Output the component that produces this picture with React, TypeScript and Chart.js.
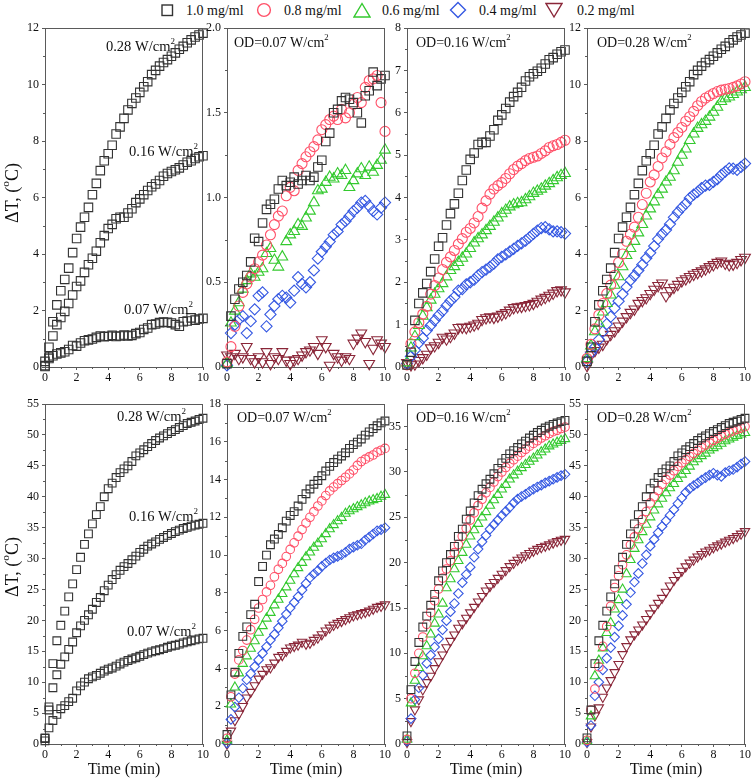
import React, { useEffect, useRef } from "react";
import { Chart, registerables } from "chart.js";

Chart.register(...registerables);

const FONT = '"Liberation Serif", "Times New Roman", serif';
const TEXT_COLOR = "#111111";
const AXIS_COLOR = "#5a5a5a";

// ---------- data ----------
const times = [0, 0.25, 0.5, 0.75, 1, 1.25, 1.5, 1.75, 2, 2.25, 2.5, 2.75, 3, 3.25, 3.5, 3.75, 4, 4.25, 4.5, 4.75, 5, 5.25, 5.5, 5.75, 6, 6.25, 6.5, 6.75, 7, 7.25, 7.5, 7.75, 8, 8.25, 8.5, 8.75, 9, 9.25, 9.5, 9.75, 10];
const timeTickStep = 2;

const concLabels = ["1.0 mg/ml", "0.8 mg/ml", "0.6 mg/ml", "0.4 mg/ml", "0.2 mg/ml"];
const powerLabels = ["0.07 W/cm", "0.16 W/cm", "0.28 W/cm"];

// Top row (ΔT up to a few °C)
const top_007_c10 = [0.02, 0.30, 0.40, 0.46, 0.50, 0.54, 0.62, 0.76, 0.74, 0.85, 0.93, 0.96, 0.99, 1.05, 1.10, 1.07, 1.09, 1.12, 1.08, 1.10, 1.13, 1.10, 1.12, 1.18, 1.22, 1.33, 1.38, 1.50, 1.52, 1.57, 1.59, 1.58, 1.56, 1.50, 1.44, 1.60, 1.63, 1.74, 1.66, 1.70, 1.72];
const top_007_c08 = [0.03, 0.12, 0.24, 0.36, 0.44, 0.49, 0.53, 0.58, 0.62, 0.66, 0.72, 0.78, 0.84, 0.89, 0.92, 1.01, 1.06, 1.04, 1.16, 1.20, 1.24, 1.27, 1.30, 1.34, 1.40, 1.43, 1.46, 1.48, 1.46, 1.52, 1.47, 1.50, 1.55, 1.59, 1.56, 1.65, 1.69, 1.70, 1.72, 1.56, 1.39];
const top_007_c06 = [0.02, 0.26, 0.33, 0.38, 0.46, 0.51, 0.55, 0.53, 0.56, 0.58, 0.67, 0.70, 0.63, 0.59, 0.65, 0.74, 0.78, 0.80, 0.84, 0.83, 0.88, 0.92, 0.97, 1.04, 1.05, 1.09, 1.12, 1.11, 1.14, 1.13, 1.16, 1.06, 1.10, 1.14, 1.17, 1.13, 1.18, 1.15, 1.19, 1.22, 1.28];
const top_007_c04 = [0.01, 0.20, 0.25, 0.28, 0.30, 0.20, 0.27, 0.34, 0.42, 0.44, 0.24, 0.31, 0.36, 0.40, 0.42, 0.41, 0.38, 0.45, 0.53, 0.49, 0.47, 0.50, 0.57, 0.64, 0.68, 0.71, 0.74, 0.78, 0.80, 0.84, 0.86, 0.89, 0.92, 0.94, 0.97, 0.98, 0.95, 0.92, 0.90, 0.94, 0.97];
const top_007_c02 = [0.07, 0.06, 0.08, 0.05, 0.06, 0.12, 0.05, 0.03, 0.06, 0.03, 0.09, 0.02, 0.06, 0.05, 0.09, 0.04, 0.02, 0.04, 0.05, 0.07, 0.09, 0.10, 0.12, 0.08, 0.16, 0.12, 0.01, 0.08, 0.06, 0.04, 0.06, 0.05, 0.14, 0.17, 0.20, 0.15, 0.02, 0.11, 0.16, 0.14, 0.12];

const top_016_c10 = [0.05, 0.35, 1.1, 1.5, 1.75, 1.97, 2.25, 2.55, 2.85, 3.05, 3.35, 3.62, 3.85, 4.1, 4.4, 4.65, 4.9, 5.05, 5.25, 5.3, 5.3, 5.45, 5.6, 5.82, 5.95, 6.1, 6.25, 6.38, 6.48, 6.6, 6.75, 6.85, 6.92, 6.98, 7.05, 7.15, 7.25, 7.3, 7.38, 7.44, 7.48];
const top_016_c08 = [0.05, 0.55, 0.83, 1.05, 1.25, 1.43, 1.72, 1.92, 2.1, 2.3, 2.47, 2.6, 2.75, 2.9, 3.03, 3.18, 3.27, 3.4, 3.55, 3.75, 3.92, 4.08, 4.2, 4.28, 4.35, 4.45, 4.56, 4.66, 4.74, 4.8, 4.87, 4.92, 4.95, 4.98, 5.04, 5.1, 5.18, 5.22, 5.25, 5.3, 5.35];
const top_016_c06 = [0.1, 0.45, 0.72, 0.98, 1.2, 1.4, 1.58, 1.72, 1.85, 1.97, 2.13, 2.28, 2.37, 2.47, 2.57, 2.67, 2.8, 2.93, 3.03, 3.12, 3.22, 3.32, 3.42, 3.52, 3.62, 3.7, 3.78, 3.83, 3.86, 3.88, 3.95, 4.02, 4.1, 4.15, 4.2, 4.27, 4.33, 4.4, 4.47, 4.52, 4.57];
const top_016_c04 = [0.08, 0.25, 0.4, 0.57, 0.68, 0.86, 0.98, 1.1, 1.22, 1.32, 1.45, 1.56, 1.65, 1.8, 1.84, 1.95, 2.0, 2.06, 2.16, 2.24, 2.3, 2.36, 2.44, 2.54, 2.6, 2.66, 2.72, 2.79, 2.86, 2.92, 2.98, 3.06, 3.14, 3.22, 3.28, 3.3, 3.25, 3.2, 3.2, 3.18, 3.15];
const top_016_c02 = [0.1, 0.05, 0.07, 0.15, 0.22, 0.3, 0.45, 0.5, 0.58, 0.7, 0.66, 0.72, 0.8, 0.93, 0.94, 0.93, 0.96, 0.99, 1.03, 1.12, 1.16, 1.18, 1.17, 1.2, 1.24, 1.28, 1.34, 1.4, 1.42, 1.43, 1.45, 1.47, 1.5, 1.55, 1.6, 1.64, 1.69, 1.74, 1.8, 1.82, 1.77];

const top_028_c10 = [0.2, 0.7, 1.6, 2.2, 2.7, 3.1, 3.5, 4.05, 4.55, 4.95, 5.3, 5.65, 6.1, 6.5, 6.95, 7.3, 7.55, 7.85, 8.25, 8.5, 8.8, 9.1, 9.33, 9.52, 9.72, 9.92, 10.1, 10.35, 10.5, 10.65, 10.78, 10.88, 11.0, 11.12, 11.25, 11.35, 11.48, 11.58, 11.68, 11.75, 11.82];
const top_028_c08 = [0.3, 0.8, 1.35, 1.84, 2.25, 2.6, 2.9, 3.25, 3.7, 4.0, 4.45, 4.7, 4.95, 5.3, 5.75, 6.15, 6.55, 6.8, 7.1, 7.4, 7.62, 7.88, 8.12, 8.3, 8.48, 8.7, 8.86, 9.05, 9.25, 9.4, 9.52, 9.6, 9.68, 9.75, 9.8, 9.83, 9.86, 9.9, 9.95, 10.02, 10.1];
const top_028_c06 = [0.3, 0.75, 1.25, 1.55, 1.95, 2.25, 2.55, 2.9, 3.2, 3.55, 3.95, 4.2, 4.45, 4.75, 5.05, 5.35, 5.6, 5.85, 6.1, 6.3, 6.55, 6.72, 6.95, 7.25, 7.5, 7.72, 8.02, 8.25, 8.45, 8.58, 8.7, 8.85, 9.02, 9.2, 9.4, 9.5, 9.56, 9.65, 9.74, 9.82, 9.9];
const top_028_c04 = [0.2, 0.5, 0.7, 0.97, 1.25, 1.52, 1.78, 2.08, 2.33, 2.58, 2.83, 3.07, 3.23, 3.42, 3.62, 3.85, 4.04, 4.28, 4.53, 4.7, 4.85, 5.06, 5.3, 5.48, 5.64, 5.78, 5.98, 6.1, 6.2, 6.33, 6.42, 6.45, 6.55, 6.65, 6.8, 6.92, 7.03, 7.02, 6.98, 7.08, 7.2];
const top_028_c02 = [0.05, 0.42, 0.58, 0.7, 0.8, 1.0, 1.15, 1.28, 1.45, 1.62, 1.78, 1.93, 2.05, 2.25, 2.35, 2.45, 2.6, 2.75, 2.88, 2.97, 2.52, 2.7, 2.82, 2.92, 3.05, 3.12, 3.2, 3.28, 3.34, 3.4, 3.47, 3.55, 3.62, 3.7, 3.75, 3.67, 3.62, 3.64, 3.7, 3.8, 3.88];

// Bottom row (ΔT up to ~50 °C)
const bot_007_c10 = [0.5, 2.6, 3.8, 4.8, 5.7, 6.2, 6.85, 7.4, 8.6, 9.4, 10.0, 10.55, 10.85, 11.1, 11.45, 11.8, 12.1, 12.3, 12.6, 12.95, 13.25, 13.5, 13.75, 13.95, 14.2, 14.45, 14.7, 14.9, 15.08, 15.25, 15.42, 15.65, 15.85, 15.98, 16.15, 16.35, 16.52, 16.7, 16.85, 17.0, 17.1];
const bot_007_c08 = [0.3, 2.5, 3.7, 4.45, 4.95, 5.5, 6.05, 6.6, 7.2, 7.65, 8.05, 8.4, 8.85, 9.25, 9.56, 9.92, 10.3, 10.65, 11.0, 11.35, 11.7, 12.0, 12.3, 12.6, 12.87, 13.15, 13.4, 13.6, 13.78, 13.95, 14.12, 14.3, 14.5, 14.75, 14.95, 15.08, 15.2, 15.3, 15.45, 15.55, 15.65];
const bot_007_c06 = [0.2, 2.1, 3.0, 3.75, 4.25, 4.65, 5.05, 5.45, 5.9, 6.25, 6.65, 6.95, 7.35, 7.65, 7.95, 8.3, 8.65, 9.0, 9.32, 9.6, 9.9, 10.15, 10.4, 10.62, 10.85, 11.12, 11.38, 11.6, 11.8, 11.98, 12.2, 12.33, 12.44, 12.55, 12.65, 12.76, 12.85, 12.92, 12.98, 13.1, 13.2];
const bot_007_c04 = [0.05, 1.3, 1.95, 2.45, 2.95, 3.4, 3.72, 4.1, 4.45, 4.8, 5.15, 5.5, 5.8, 6.15, 6.5, 6.88, 7.2, 7.5, 7.8, 8.15, 8.5, 8.8, 9.0, 9.18, 9.4, 9.58, 9.74, 9.85, 9.93, 10.02, 10.15, 10.32, 10.42, 10.52, 10.6, 10.8, 10.95, 11.12, 11.28, 11.35, 11.45];
const bot_007_c02 = [0.0, 0.7, 1.25, 1.6, 2.0, 2.45, 2.75, 3.1, 3.45, 3.7, 3.95, 4.05, 4.3, 4.6, 4.7, 4.92, 5.1, 5.18, 5.25, 5.4, 5.3, 5.35, 5.5, 5.62, 5.8, 6.0, 6.15, 6.3, 6.4, 6.5, 6.6, 6.7, 6.8, 6.86, 6.92, 6.98, 7.05, 7.15, 7.25, 7.3, 7.38];

const bot_016_c10 = [0.9, 6.0, 9.1, 11.2, 12.9, 14.1, 15.3, 16.5, 18.0, 19.1, 20.0, 20.9, 21.8, 22.9, 23.7, 24.8, 25.7, 26.6, 27.4, 28.1, 28.7, 29.2, 29.8, 30.4, 31.0, 31.5, 32.0, 32.35, 32.7, 33.1, 33.4, 33.75, 34.05, 34.35, 34.6, 34.85, 35.05, 35.25, 35.4, 35.55, 35.7];
const bot_016_c08 = [0.5, 5.0, 7.8, 10.0, 11.8, 13.2, 14.5, 15.8, 17.1, 18.3, 19.3, 20.2, 21.1, 22.0, 22.9, 23.8, 24.7, 25.5, 26.3, 27.0, 27.7, 28.3, 28.9, 29.5, 30.0, 30.5, 30.95, 31.35, 31.75, 32.15, 32.5, 32.85, 33.15, 33.45, 33.75, 34.0, 34.25, 34.45, 34.6, 34.8, 34.95];
const bot_016_c06 = [0.5, 4.5, 7.0, 8.4, 9.7, 10.8, 12.1, 13.3, 14.3, 15.5, 17.2, 18.2, 19.3, 20.2, 21.1, 22.0, 22.9, 23.6, 24.3, 25.0, 25.6, 26.3, 26.9, 27.5, 28.1, 28.6, 29.2, 29.65, 30.05, 30.45, 30.8, 31.15, 31.5, 31.85, 32.2, 32.5, 32.85, 33.05, 33.25, 33.45, 33.65];
const bot_016_c04 = [0.3, 2.8, 4.9, 6.2, 7.6, 8.9, 9.8, 10.7, 11.6, 12.6, 13.6, 14.6, 15.5, 16.6, 17.8, 18.7, 19.5, 20.6, 21.5, 22.3, 23.0, 23.7, 24.2, 24.7, 25.2, 25.65, 26.1, 26.6, 27.0, 27.3, 27.55, 27.85, 28.1, 28.35, 28.55, 28.8, 29.0, 29.2, 29.4, 29.6, 29.75];
const bot_016_c02 = [0.2, 2.5, 3.8, 4.9, 6.0, 6.8, 7.5, 8.35, 9.1, 9.85, 10.65, 11.35, 12.05, 12.8, 13.3, 13.9, 14.5, 15.1, 15.7, 16.3, 16.9, 17.4, 17.85, 18.3, 18.75, 19.15, 19.6, 19.95, 20.3, 20.55, 20.8, 21.05, 21.3, 21.5, 21.7, 21.85, 22.0, 22.2, 22.35, 22.5, 22.6];

const bot_028_c10 = [1.0, 5.5, 13.0, 16.7, 19.2, 21.5, 23.8, 25.9, 28.2, 30.2, 32.3, 34.0, 35.6, 37.1, 38.4, 40.0, 41.3, 42.2, 43.1, 43.9, 44.5, 45.0, 45.7, 46.6, 47.1, 47.6, 48.1, 48.6, 49.1, 49.5, 49.85, 50.2, 50.55, 50.85, 51.2, 51.5, 51.85, 52.05, 52.25, 52.5, 52.7];
const bot_028_c08 = [0.6, 5.5, 8.9, 12.5, 15.8, 19.0, 22.3, 25.3, 27.2, 29.0, 30.6, 32.2, 33.5, 34.8, 36.3, 37.6, 39.0, 40.0, 41.0, 42.0, 42.8, 43.5, 44.2, 44.9, 45.5, 46.0, 46.5, 47.0, 47.5, 47.95, 48.35, 48.7, 49.1, 49.45, 49.8, 50.1, 50.4, 50.65, 50.9, 51.1, 51.35];
const bot_028_c06 = [0.5, 4.5, 11.0, 13.5, 15.5, 18.0, 19.6, 21.8, 23.3, 25.0, 27.5, 29.8, 31.6, 33.0, 34.3, 35.5, 36.7, 37.8, 38.8, 39.7, 40.6, 41.4, 42.1, 42.9, 43.6, 44.2, 44.9, 45.6, 46.1, 46.6, 47.0, 47.5, 47.9, 48.2, 48.6, 49.0, 49.3, 49.6, 49.85, 50.1, 50.35];
const bot_028_c04 = [0.3, 3.0, 7.8, 10.0, 12.0, 13.9, 15.6, 17.3, 19.1, 20.8, 22.6, 24.5, 26.2, 27.6, 29.2, 30.6, 32.0, 33.1, 34.2, 35.2, 36.1, 37.0, 37.9, 38.9, 39.8, 40.7, 41.3, 41.8, 42.2, 42.7, 43.1, 43.5, 43.8, 43.5, 43.3, 43.9, 44.2, 44.4, 44.8, 45.3, 45.7];
const bot_028_c02 = [0.3, 2.8, 4.6, 5.9, 7.6, 9.1, 10.3, 11.6, 12.9, 14.5, 15.8, 16.9, 17.7, 18.5, 19.3, 20.2, 21.1, 22.0, 22.8, 23.6, 24.6, 25.6, 26.5, 27.3, 28.0, 28.7, 29.3, 29.8, 30.3, 30.7, 31.1, 31.4, 31.8, 32.1, 32.4, 32.7, 33.0, 33.3, 33.6, 34.0, 34.4];

// ---------- styles ----------
const seriesColors = ["#333333", "#ff5068", "#33c92e", "#3558e2", "#8a2638"];
const seriesShapes = ["rect", "circle", "triangle", "rectRot", "triangle"];
const seriesRotation = [0, 0, 0, 0, 180];
const topRadii = [6, 5, 6.2, 5.6, 6.2];
const botRadii = [5.5, 4.3, 5.4, 4.8, 5.4];

type Part = { text: string; sup?: boolean };
type Note = { parts: Part[]; x: number; y: number };
type PanelDef = {
  key: string;
  left: number;
  top: number;
  width: number;
  height: number;
  bottomSpace: number;
  yMax: number;
  yStep: number;
  oneDecimal?: boolean;
  series: number[][];
  styles: number[];
  radii: number[];
  title?: Part[];
  titleOffset?: [number, number];
  notes?: Note[];
  xTitle: boolean;
  yTitleY?: number;
};

const AXIS_W = 45;
const PAD_T = 14;
const PAD_R = 12;

const sup2 = (t: string): Part[] => [{ text: t }, { text: "2", sup: true }];
const odTitle = (p: string): Part[] => sup2("OD=" + p);

const colLeft = [45, 227, 407, 587];
const colW = 158;
const TOP_ROW = { top: 28, height: 339, bottom: 25 };
const BOT_ROW = { top: 404, height: 340, bottom: 35 };

const panels: PanelDef[] = [
  {
    key: "t1", left: colLeft[0], top: TOP_ROW.top, width: colW, height: TOP_ROW.height, bottomSpace: TOP_ROW.bottom,
    yMax: 12, yStep: 2, series: [top_028_c10, top_016_c10, top_007_c10], styles: [0, 0, 0], radii: topRadii,
    notes: [
      { parts: sup2(powerLabels[2]), x: 3.86, y: 11.33 },
      { parts: sup2(powerLabels[1]), x: 5.32, y: 7.61 },
      { parts: sup2(powerLabels[0]), x: 5.0, y: 2.02 },
    ],
    xTitle: false, yTitleY: 193,
  },
  {
    key: "t2", left: colLeft[1], top: TOP_ROW.top, width: colW, height: TOP_ROW.height, bottomSpace: TOP_ROW.bottom,
    yMax: 2, yStep: 0.5, oneDecimal: true,
    series: [top_007_c10, top_007_c08, top_007_c06, top_007_c04, top_007_c02], styles: [0, 1, 2, 3, 4], radii: topRadii,
    title: odTitle(powerLabels[0]), titleOffset: [7, 15], xTitle: false,
  },
  {
    key: "t3", left: colLeft[2], top: TOP_ROW.top, width: colW, height: TOP_ROW.height, bottomSpace: TOP_ROW.bottom,
    yMax: 8, yStep: 1,
    series: [top_016_c10, top_016_c08, top_016_c06, top_016_c04, top_016_c02], styles: [0, 1, 2, 3, 4], radii: topRadii,
    title: odTitle(powerLabels[1]), titleOffset: [9, 15], xTitle: false,
  },
  {
    key: "t4", left: colLeft[3], top: TOP_ROW.top, width: colW, height: TOP_ROW.height, bottomSpace: TOP_ROW.bottom,
    yMax: 12, yStep: 2,
    series: [top_028_c10, top_028_c08, top_028_c06, top_028_c04, top_028_c02], styles: [0, 1, 2, 3, 4], radii: topRadii,
    title: odTitle(powerLabels[2]), titleOffset: [10, 15], xTitle: false,
  },
  {
    key: "b1", left: colLeft[0], top: BOT_ROW.top, width: colW, height: BOT_ROW.height, bottomSpace: BOT_ROW.bottom,
    yMax: 55, yStep: 5, series: [bot_028_c10, bot_016_c10, bot_007_c10], styles: [0, 0, 0], radii: botRadii,
    notes: [
      { parts: sup2(powerLabels[2]), x: 4.56, y: 52.9 },
      { parts: sup2(powerLabels[1]), x: 5.32, y: 36.7 },
      { parts: sup2(powerLabels[0]), x: 5.19, y: 18.1 },
    ],
    xTitle: true, yTitleY: 567,
  },
  {
    key: "b2", left: colLeft[1], top: BOT_ROW.top, width: colW, height: BOT_ROW.height, bottomSpace: BOT_ROW.bottom,
    yMax: 18, yStep: 2,
    series: [bot_007_c10, bot_007_c08, bot_007_c06, bot_007_c04, bot_007_c02], styles: [0, 1, 2, 3, 4], radii: botRadii,
    title: odTitle(powerLabels[0]), titleOffset: [10, 14], xTitle: true,
  },
  {
    key: "b3", left: colLeft[2], top: BOT_ROW.top, width: colW, height: BOT_ROW.height, bottomSpace: BOT_ROW.bottom,
    yMax: 37.5, yStep: 5,
    series: [bot_016_c10, bot_016_c08, bot_016_c06, bot_016_c04, bot_016_c02], styles: [0, 1, 2, 3, 4], radii: botRadii,
    title: odTitle(powerLabels[1]), titleOffset: [9, 14], xTitle: true,
  },
  {
    key: "b4", left: colLeft[3], top: BOT_ROW.top, width: colW, height: BOT_ROW.height, bottomSpace: BOT_ROW.bottom,
    yMax: 55, yStep: 5,
    series: [bot_028_c10, bot_028_c08, bot_028_c06, bot_028_c04, bot_028_c02], styles: [0, 1, 2, 3, 4], radii: botRadii,
    title: odTitle(powerLabels[2]), titleOffset: [10, 14], xTitle: true,
  },
];

function drawRich(ctx: CanvasRenderingContext2D, parts: Part[], x: number, y: number, size: number, align: "left" | "center") {
  const widths = parts.map((p) => {
    ctx.font = `${p.sup ? size * 0.62 : size}px ${FONT}`;
    return ctx.measureText(p.text).width;
  });
  const total = widths.reduce((a, b) => a + b, 0);
  let cx = align === "center" ? x - total / 2 : x;
  ctx.textAlign = "left";
  ctx.textBaseline = "middle";
  parts.forEach((p, i) => {
    ctx.font = `${p.sup ? size * 0.62 : size}px ${FONT}`;
    ctx.fillText(p.text, cx, p.sup ? y - size * 0.38 : y);
    cx += widths[i];
  });
}

function makeDecor(p: PanelDef, canvasTop: number) {
  return {
    id: "decor_" + p.key,
    afterDraw(chart: any) {
      const ctx: CanvasRenderingContext2D = chart.ctx;
      const a = chart.chartArea;
      const xs = chart.scales.x;
      const ys = chart.scales.y;
      ctx.save();
      ctx.strokeStyle = AXIS_COLOR;
      ctx.lineWidth = 1;
      ctx.beginPath();
      ctx.moveTo(a.left, a.top + 0.5);
      ctx.lineTo(a.right, a.top + 0.5);
      ctx.moveTo(a.right - 0.5, a.top);
      ctx.lineTo(a.right - 0.5, a.bottom);
      // minor ticks
      const yv = ys.ticks.map((t: any) => t.value);
      for (let i = 0; i < yv.length - 1; i++) {
        const py = Math.round(ys.getPixelForValue((yv[i] + yv[i + 1]) / 2)) + 0.5;
        ctx.moveTo(a.left, py);
        ctx.lineTo(a.left - 2, py);
      }
      const xv = xs.ticks.map((t: any) => t.value);
      for (let i = 0; i < xv.length - 1; i++) {
        const px = Math.round(xs.getPixelForValue((xv[i] + xv[i + 1]) / 2)) + 0.5;
        ctx.moveTo(px, a.bottom);
        ctx.lineTo(px, a.bottom + 2);
      }
      ctx.stroke();

      ctx.fillStyle = TEXT_COLOR;
      if (p.title) {
        const off = p.titleOffset || [8, 15];
        drawRich(ctx, p.title, a.left + off[0], a.top + off[1], 14, "left");
      }
      if (p.notes) {
        p.notes.forEach((n) => {
          drawRich(ctx, n.parts, xs.getPixelForValue(n.x), ys.getPixelForValue(n.y), 14.5, "left");
        });
      }
      if (p.yTitleY != null) {
        ctx.save();
        ctx.translate(13, p.yTitleY - canvasTop);
        ctx.rotate(-Math.PI / 2);
        drawRich(ctx, [{ text: "\u0394T, (" }, { text: "o", sup: true }, { text: "C)" }], 0, 0, 18, "center");
        ctx.restore();
      }
      ctx.restore();
    },
  };
}

function Panel({ def }: { def: PanelDef }) {
  const ref = useRef<HTMLCanvasElement | null>(null);
  const cLeft = def.left - AXIS_W;
  const cTop = def.top - PAD_T;
  const cW = def.width + AXIS_W + PAD_R;
  const cH = def.height + PAD_T + def.bottomSpace;

  useEffect(() => {
    if (!ref.current) return;
    const datasets = def.series.map((vals, i) => {
      const s = def.styles[i];
      return {
        label: concLabels[s],
        data: times.map((t, k) => ({ x: t, y: vals[k] })),
        showLine: false,
        pointStyle: seriesShapes[s],
        pointRotation: seriesRotation[s],
        pointRadius: def.radii[s],
        pointHoverRadius: def.radii[s],
        pointBorderWidth: 1.1,
        pointBorderColor: seriesColors[s],
        pointBackgroundColor: "rgba(0,0,0,0)",
        borderColor: seriesColors[s],
        backgroundColor: "rgba(0,0,0,0)",
        clip: false,
      };
    });
    const tickFont = { family: FONT, size: 12 };
    const chart = new Chart(ref.current, {
      type: "scatter",
      data: { datasets } as any,
      options: {
        responsive: false,
        animation: false,
        events: [],
        layout: { padding: { top: PAD_T, right: PAD_R, left: 0, bottom: 0 } },
        plugins: { legend: { display: false }, tooltip: { enabled: false }, title: { display: false } },
        scales: {
          x: {
            type: "linear",
            min: 0,
            max: 10,
            bounds: "data",
            ticks: {
              stepSize: timeTickStep,
              includeBounds: false,
              autoSkip: false,
              maxRotation: 0,
              color: TEXT_COLOR,
              font: tickFont,
              padding: 1,
              callback: (v: any) => String(v),
            },
            grid: { display: true, drawOnChartArea: false, drawTicks: true, tickLength: 3, color: AXIS_COLOR },
            border: { display: true, color: AXIS_COLOR, width: 1 },
            title: {
              display: def.xTitle,
              text: "Time (min)",
              color: TEXT_COLOR,
              font: { family: FONT, size: 16 },
              padding: { top: 0, bottom: 0 },
            },
            afterFit: (s: any) => {
              s.height = def.bottomSpace;
            },
          },
          y: {
            type: "linear",
            min: 0,
            max: def.yMax,
            bounds: "data",
            ticks: {
              stepSize: def.yStep,
              includeBounds: false,
              autoSkip: false,
              color: TEXT_COLOR,
              font: tickFont,
              padding: 3,
              callback: (v: any) => (def.oneDecimal ? (v === 0 ? "0" : Number(v).toFixed(1)) : String(v)),
            },
            grid: { display: true, drawOnChartArea: false, drawTicks: true, tickLength: 3, color: AXIS_COLOR },
            border: { display: true, color: AXIS_COLOR, width: 1 },
            afterFit: (s: any) => {
              s.width = AXIS_W;
            },
          },
        },
      } as any,
      plugins: [makeDecor(def, cTop)],
    });
    return () => chart.destroy();
  }, []);

  return (
    <canvas
      ref={ref}
      width={cW}
      height={cH}
      style={{ position: "absolute", left: cLeft, top: cTop, width: cW, height: cH }}
    />
  );
}

const legendMarkerX = [167, 263.5, 362, 457.5, 554];
const legendTextX = [186, 284, 382, 479, 577];

function LegendMarker({ idx }: { idx: number }) {
  const c = seriesColors[idx];
  const common = { fill: "none", stroke: c, strokeWidth: 1.4 };
  if (idx === 0) return <rect x={4} y={4} width={10.5} height={10.5} {...common} />;
  if (idx === 1) return <circle cx={9} cy={9} r={6.4} {...common} />;
  if (idx === 2) return <polygon points="1,16 17,16 9,2.5" {...common} />;
  if (idx === 3) return <polygon points="9,1.5 16.5,9 9,16.5 1.5,9" {...common} />;
  return <polygon points="1,2.5 17,2.5 9,16" {...common} />;
}

export default function App() {
  return (
    <div style={{ position: "absolute", left: 0, top: 0, width: 754, height: 779, overflow: "hidden", background: "#ffffff" }}>
      {concLabels.map((lab, i) => (
        <React.Fragment key={lab}>
          <svg width={18} height={18} style={{ position: "absolute", left: legendMarkerX[i] - 9, top: 1 }}>
            <LegendMarker idx={i} />
          </svg>
          <span
            style={{
              position: "absolute",
              left: legendTextX[i],
              top: 3,
              fontFamily: FONT,
              fontSize: 14,
              lineHeight: "16px",
              color: TEXT_COLOR,
              whiteSpace: "nowrap",
            }}
          >
            {lab}
          </span>
        </React.Fragment>
      ))}
      {panels.map((p) => (
        <Panel key={p.key} def={p} />
      ))}
    </div>
  );
}
